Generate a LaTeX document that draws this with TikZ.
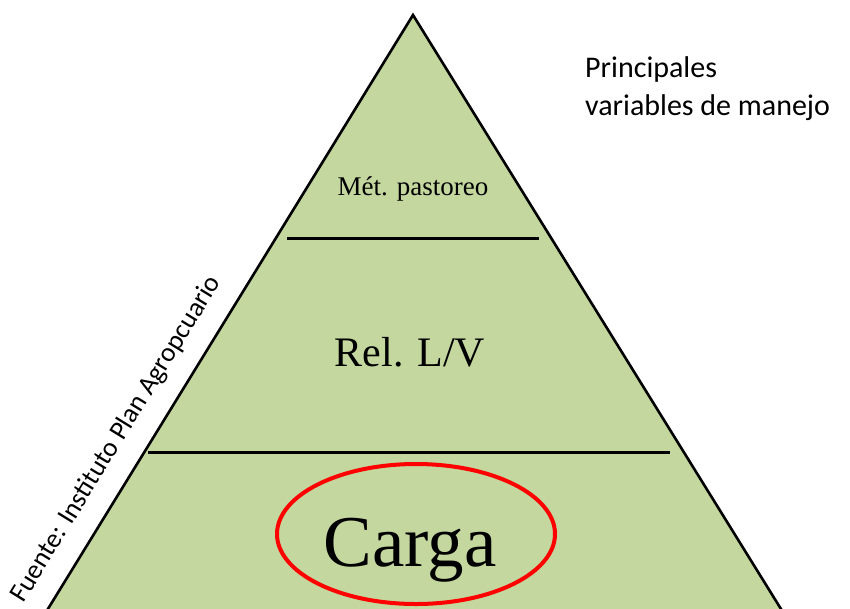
\documentclass[tikz,border=0pt]{standalone}
\usepackage{fontspec}
\setmainfont{Liberation Serif}
\newfontfamily\calib{Carlito}
\definecolor{pyrgreen}{RGB}{196,215,158}
\definecolor{ovalred}{RGB}{255,0,0}
\tikzset{
  seprule/.style={line width=2.6pt, black},
  levellabel/.style={anchor=base, inner sep=0pt, text=black},
}
\begin{document}
\begin{tikzpicture}[x=1pt,y=-1pt]
\clip (0,0) rectangle (850,608);
\fill[white] (0,0) rectangle (850,608);
\coordinate (apex) at (413,15);
\coordinate (bl) at (35,630);
\coordinate (br) at (794,630);
\draw[fill=pyrgreen, line width=2.6pt, line join=miter] (apex) -- (bl) -- (br) -- cycle;
\coordinate (l1a) at (287,238.5);
\coordinate (l1b) at (539,238.5);
\coordinate (l2a) at (148,452.5);
\coordinate (l2b) at (670,452.5);
\draw[seprule] (l1a) -- (l1b);
\draw[seprule] (l2a) -- (l2b);
\node[levellabel, font=\fontsize{27}{32}\selectfont] (met) at (413,195) {Mét. pastoreo};
\node[levellabel, font=\fontsize{42}{48}\selectfont] (rel) at (410,366) {Rel. L/V};
\node[levellabel, font=\fontsize{73}{80}\selectfont] (carga) at (410,566) {Carga};
\draw[ovalred, line width=4pt] (416,534) ellipse [x radius=139, y radius=70];
\node[anchor=north west, align=left, inner sep=0pt, font=\calib\fontsize{30}{38}\selectfont] (title) at (585,56) {Principales\\variables de manejo};
\coordinate (srcmid) at (122.5,443);
\node[anchor=base, rotate=58.4, inner sep=0pt, font=\calib\fontsize{27}{30}\selectfont] (src) at (srcmid) {Fuente: Instituto Plan Agropcuario};
\end{tikzpicture}
\end{document}
